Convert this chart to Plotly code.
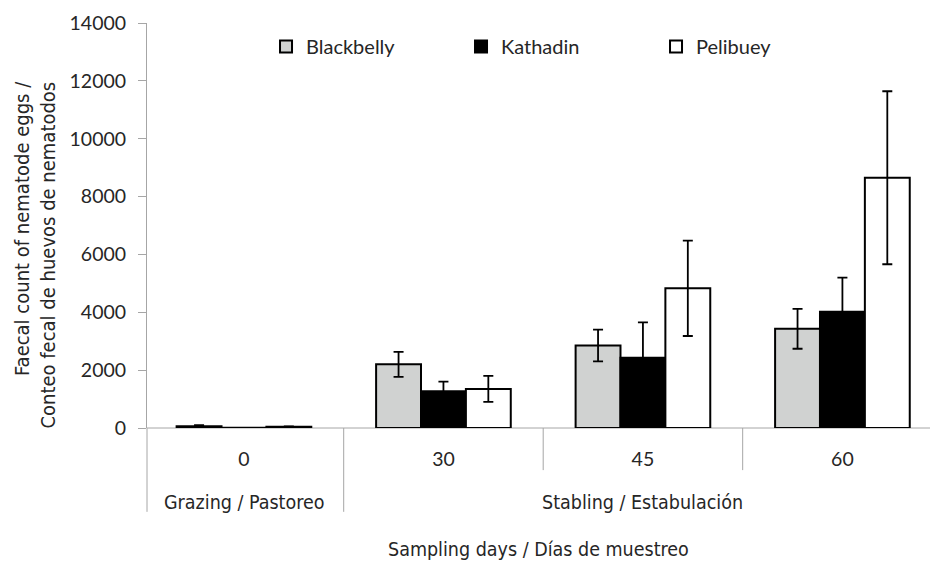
import plotly.graph_objects as go

days = ["0", "30", "45", "60"]
breeds = ["Blackbelly", "Kathadin", "Pelibuey"]
blackbelly = [60, 2200, 2850, 3430]
blackbelly_err = [40, 430, 550, 690]
kathadin = [5, 1270, 2430, 4020]
kathadin_err = [0, 330, 1220, 1180]
pelibuey = [45, 1350, 4830, 8650]
pelibuey_err = [10, 450, 1650, 2990]
y_ticks = [0, 2000, 4000, 6000, 8000, 10000, 12000, 14000]
group_labels = ["Grazing / Pastoreo", "Stabling / Estabulación"]

xpos = list(range(len(days)))
fills = ["#d0d2d1", "#000000", "#ffffff"]
values = [blackbelly, kathadin, pelibuey]
errs = [blackbelly_err, kathadin_err, pelibuey_err]

TICKFONT = "Lato"
NARROW = "DejaVu Sans Condensed"
TXT = "#262626"

fig = go.Figure()
for name, v, e, c in zip(breeds, values, errs, fills):
    fig.add_trace(go.Bar(
        x=xpos, y=v, name=name,
        marker=dict(color=c, line=dict(color="#000000", width=2)),
        error_y=dict(type="data", array=e, visible=True, color="#000000",
                     thickness=1.8, width=5),
    ))

axis_gray = "#a6a6a6"
fig.update_layout(
    width=930, height=568,
    margin=dict(l=147, r=0, t=23, b=140),
    paper_bgcolor="white", plot_bgcolor="white",
    barmode="group", bargap=0.325, bargroupgap=0,
    showlegend=True,
    legend=dict(orientation="h", x=0.152, y=0.99, xanchor="left", yanchor="top",
                font=dict(family=TICKFONT, size=20, color=TXT),
                entrywidth=150, entrywidthmode="pixels",
                itemsizing="constant", bgcolor="rgba(0,0,0,0)"),
    xaxis=dict(range=[-0.486, 3.439], tickvals=xpos, ticktext=days,
               showgrid=False, zeroline=False, showline=False, ticks="",
               ticklabelstandoff=17,
               tickfont=dict(family=TICKFONT, size=19.5, color=TXT)),
    yaxis=dict(range=[0, 14000], tickvals=y_ticks, ticktext=[str(t) for t in y_ticks],
               showgrid=False,
               zeroline=False, showline=True, linecolor=axis_gray, linewidth=1,
               ticks="outside", ticklen=8, tickcolor=axis_gray,
               ticklabelstandoff=8,
               tickfont=dict(family=TICKFONT, size=19.5, color=TXT)),
)

# x axis baseline and category separators
fig.add_shape(type="line", xref="paper", yref="paper", x0=0, x1=1, y0=0, y1=0,
              line=dict(color=axis_gray, width=1), layer="below")
fig.add_shape(type="line", xref="paper", yref="paper", x0=0, x1=0, y0=0, y1=-0.207,
              line=dict(color=axis_gray, width=1))
fig.add_shape(type="line", xref="x", yref="paper", x0=0.5, x1=0.5, y0=0, y1=-0.207,
              line=dict(color=axis_gray, width=1))
for b in [1.5, 2.5]:
    fig.add_shape(type="line", xref="x", yref="paper", x0=b, x1=b, y0=0, y1=-0.104,
                  line=dict(color=axis_gray, width=1))

fig.add_annotation(x=0, xref="x", y=-0.185, yref="paper", text=group_labels[0],
                   xanchor="center", yanchor="middle",
                   showarrow=False, font=dict(family=NARROW, size=19.5, color=TXT))
fig.add_annotation(x=2, xref="x", y=-0.185, yref="paper", text=group_labels[1],
                   xanchor="center", yanchor="middle",
                   showarrow=False, font=dict(family=NARROW, size=19.5, color=TXT))
fig.add_annotation(x=0.5, xref="paper", y=-0.299, yref="paper",
                   xanchor="center", yanchor="middle",
                   text="Sampling days / Días de muestreo", showarrow=False,
                   font=dict(family=NARROW, size=19.5, color=TXT))
fig.add_annotation(x=(35.5 - 147) / 783, xref="paper", y=0.427, yref="paper",
                   xanchor="center", yanchor="middle", align="right",
                   text="Faecal count of nematode eggs /<br>Conteo fecal de huevos de nematodos",
                   textangle=-90, showarrow=False,
                   font=dict(family=NARROW, size=20, color=TXT))

fig.write_html("out.html", config={"displayModeBar": False},
               post_script="document.body.style.margin='0';")
